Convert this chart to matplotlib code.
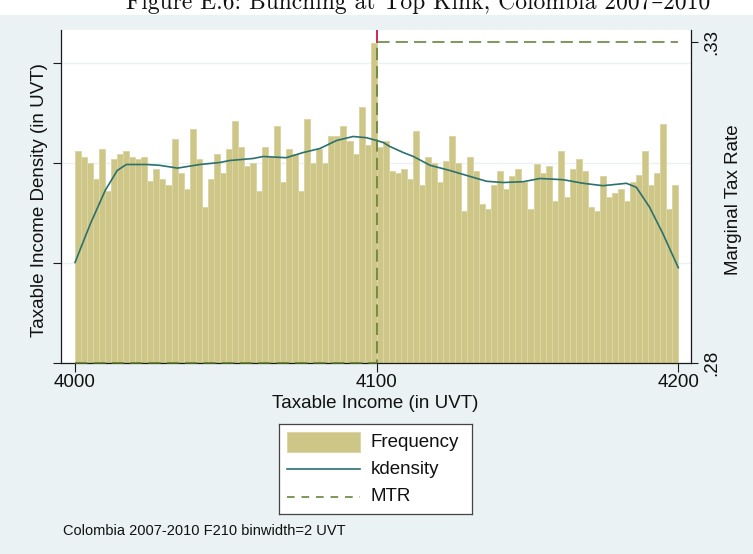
import matplotlib
matplotlib.use("Agg")
import matplotlib.pyplot as plt
from matplotlib.patches import Rectangle
from matplotlib.lines import Line2D

# ---- data -------------------------------------------------------------
bin_start = 4000
bin_width = 2
# histogram density per bin, in units of 1e-3
density_e3 = [
    5.30, 5.15, 5.00, 4.60, 5.35, 4.30, 5.10, 5.20, 5.30, 5.15,
    5.10, 5.15, 4.55, 4.85, 4.60, 4.45, 5.60, 4.75, 4.35, 5.85,
    5.10, 3.90, 4.60, 5.20, 4.75, 5.35, 6.05, 5.40, 4.90, 5.00,
    4.30, 5.40, 5.15, 5.90, 4.50, 5.35, 5.20, 4.30, 6.10, 5.00,
    5.35, 5.00, 5.65, 5.65, 5.90, 5.55, 5.20, 6.40, 5.45, 8.00,
    5.40, 5.55, 4.80, 4.75, 4.85, 4.60, 5.80, 4.45, 5.15, 5.00,
    4.50, 5.05, 5.65, 5.00, 3.80, 5.15, 4.80, 3.95, 3.85, 4.45,
    4.80, 4.35, 4.65, 4.85, 4.50, 3.85, 4.95, 4.75, 4.90, 4.05,
    5.30, 4.15, 4.85, 5.10, 4.80, 3.90, 3.80, 4.65, 4.15, 4.25,
    4.35, 4.05, 4.50, 4.70, 5.30, 4.45, 4.75, 5.95, 3.85, 4.45,
]
# kernel density estimate, in units of 1e-3
kd_x = [4000, 4005, 4010, 4014, 4017, 4023.7, 4028, 4034, 4041.4, 4048,
        4051.3, 4059, 4062.4, 4070, 4075.7, 4081.2, 4086.7, 4092.2, 4096.6, 4100,
        4102.2, 4104.4, 4108.8, 4112.2, 4117.7, 4124.3, 4131, 4136.5, 4142, 4148.6,
        4154.1, 4161.8, 4168.5, 4175, 4182.8, 4186.1, 4190.5, 4194.9, 4200]
kd_e3 = [2.50, 3.45, 4.30, 4.80, 4.95, 4.95, 4.93, 4.86, 4.95, 5.00,
         5.05, 5.10, 5.15, 5.12, 5.25, 5.35, 5.55, 5.65, 5.62, 5.55,
         5.50, 5.40, 5.25, 5.15, 4.93, 4.80, 4.65, 4.53, 4.50, 4.52,
         4.60, 4.57, 4.48, 4.42, 4.48, 4.38, 3.88, 3.22, 2.37]
# marginal tax rate schedule
mtr_x = [4000, 4100, 4100, 4200]
mtr_rate = [0.28, 0.28, 0.33, 0.33]
kink = 4100

x_ticks = [4000, 4100, 4200]
density_ticks = [0, 0.0025, 0.005, 0.0075]
rate_ticks = [0.28, 0.33]
rate_labels = [".28", ".33"]

# ---- styling ----------------------------------------------------------
W, H = 753, 554
BG = "#EAF2F3"
BAR = "#CEC687"
BAR_EDGE = "#DCD6A6"
KD = "#2B716E"
MTR = "#5A7A2C"
KINK = "#C8174A"
AX = "#1A1A1A"
FONT = "Liberation Sans"
FS = 13.5

plt.rcParams["font.family"] = [FONT, "DejaVu Sans"]

fig = plt.figure(figsize=(W / 100, H / 100), dpi=100, facecolor=BG)


def fx(px):
    return px / W


def fy(py):
    return 1 - py / H


# white strip with the figure caption at the top
fig.add_artist(Rectangle((0, fy(15)), 1, 15 / H, transform=fig.transFigure,
                         facecolor="white", edgecolor="none", zorder=0))
fig.text(fx(418), fy(9), "Figure E.6: Bunching at Top Kink, Colombia 2007\u20132010",
         family=["cmr10", "DejaVu Serif"], fontsize=17, ha="center", va="baseline",
         color="#111111")

left, right, top, bottom = 61, 691, 30, 362.5
ax = fig.add_axes([fx(left), fy(bottom), (right - left) / W, (bottom - top) / H])
ax.set_facecolor("white")

x_lo = 4000 - (75 - left) / 3.015
x_hi = 4200 + (right - 678.3) / 3.015
ax.set_xlim(x_lo, x_hi)
ax.set_ylim(0, (bottom - top) * 0.000025)

# kink marker underneath the bars
ax.axvline(kink, color=KINK, lw=1.3, zorder=1.2)

edges = [bin_start + i * bin_width for i in range(len(density_e3))]
dens = [d * 1e-3 for d in density_e3]
ax.bar(edges, dens, width=bin_width, align="edge", color=BAR,
       edgecolor=BAR_EDGE, linewidth=0.7, zorder=2)
ax.plot(kd_x, [d * 1e-3 for d in kd_e3], color=KD, lw=1.2, zorder=3)

ax.set_yticks(density_ticks)
ax.set_yticklabels([])
ax.yaxis.grid(True, color=BG, lw=1.0)
ax.set_axisbelow(True)
ax.set_xticks(x_ticks)
ax.set_xticklabels([str(t) for t in x_ticks], fontsize=FS, color="#111111")
ax.tick_params(axis="x", length=6.5, width=0.8, color=AX, pad=1.5)
ax.tick_params(axis="y", length=5.5, width=0.8, color=AX)
for s in ("top", "right"):
    ax.spines[s].set_visible(False)
for s in ("left", "bottom"):
    ax.spines[s].set_color(AX)
    ax.spines[s].set_linewidth(0.9)

ax2 = ax.twinx()
rate_top = 0.28 + (bottom - top) / (bottom - 42) * 0.05
ax2.set_ylim(0.28, rate_top)
ax2.plot(mtr_x, mtr_rate, color=MTR, lw=1.1, linestyle=(0, (8, 4)),
         clip_on=False, zorder=4)
ax2.set_yticks(rate_ticks)
ax2.set_yticklabels(rate_labels, rotation=90, va="center", ha="left",
                    fontsize=FS, color="#111111")
ax2.tick_params(axis="y", length=5, width=0.8, color=AX, pad=4)
for s in ("top", "left", "bottom"):
    ax2.spines[s].set_visible(False)
ax2.spines["right"].set_color(AX)
ax2.spines["right"].set_linewidth(0.9)

# axis titles
fig.text(fx(375), fy(404), "Taxable Income (in UVT)", fontsize=FS,
         ha="center", va="center", color="#111111")
fig.text(fx(40), fy(200), "Taxable Income Density (in UVT)", fontsize=FS,
         rotation=90, ha="center", va="center", color="#111111")
fig.text(fx(734), fy(200), "Marginal Tax Rate", fontsize=FS,
         rotation=90, ha="center", va="center", color="#111111")

# legend box
lx0, ly0, lw_, lh_ = 279, 424, 193, 90
lg = fig.add_axes([fx(lx0), fy(ly0 + lh_), lw_ / W, lh_ / H])
lg.set_xlim(0, lw_)
lg.set_ylim(lh_, 0)
lg.set_xticks([])
lg.set_yticks([])
lg.set_facecolor("white")
for s in lg.spines.values():
    s.set_color("#444444")
    s.set_linewidth(0.9)
lg.add_patch(Rectangle((8, 8.3), 73, 20, facecolor=BAR, edgecolor=BAR_EDGE, lw=0.7))
lg.add_line(Line2D([8, 81], [45.3, 45.3], color=KD, lw=1.2))
lg.add_line(Line2D([8, 81], [72.7, 72.7], color=MTR, lw=1.1, linestyle=(0, (5, 4.5))))
for yy, txt in ((18.3, "Frequency"), (45.3, "kdensity"), (72.7, "MTR")):
    lg.text(91.5, yy, txt, fontsize=FS, ha="left", va="center", color="#111111")

fig.text(fx(63), fy(531), "Colombia 2007-2010 F210 binwidth=2 UVT", fontsize=10.5,
         ha="left", va="center", color="#111111")

fig.savefig("out.png", dpi=100, facecolor=BG)
